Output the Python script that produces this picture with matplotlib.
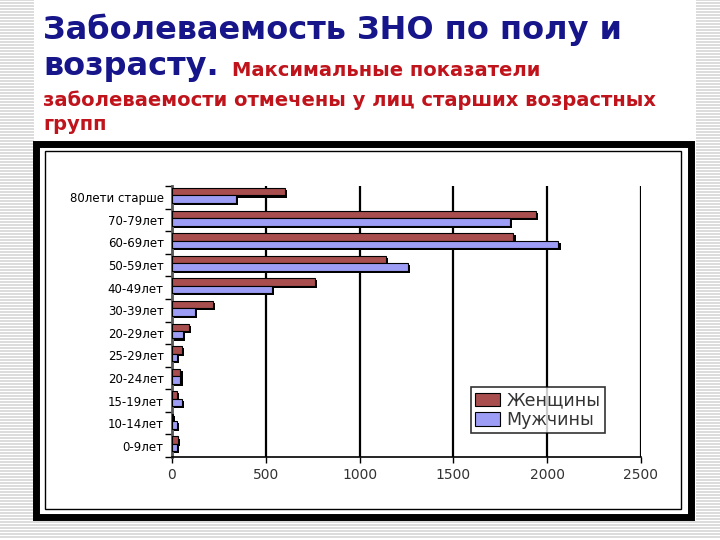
import matplotlib.pyplot as plt
import matplotlib.patheffects as pe
import numpy as np

# age groups, top to bottom as on the slide
groups = ["80лети старше", "70-79лет", "60-69лет", "50-59лет", "40-49лет",
          "30-39лет", "20-29лет", "25-29лет", "20-24лет", "15-19лет",
          "10-14лет", "0-9лет"]
women = [600, 1940, 1820, 1140, 760, 218, 90, 53, 45, 27, 5, 32]
men = [340, 1800, 2060, 1260, 532, 122, 58, 27, 45, 53, 27, 25]
xticks = [0, 500, 1000, 1500, 2000, 2500]

W_COLOR = '#a84e4e'
M_COLOR = '#9d9df5'

fig = plt.figure(figsize=(7.2, 5.4), dpi=100)

# slide background: grey stripes at the edges, white content area
bg = fig.add_axes([0, 0, 1, 1], zorder=-5)
bg.set_xlim(0, 720)
bg.set_ylim(540, 0)
bg.axis('off')
for yy in np.arange(0, 540, 3):
    bg.plot([0, 720], [yy, yy], color='#d6d6d6', lw=1.2,
            solid_capstyle='butt', zorder=1)
bg.add_patch(plt.Rectangle((34, 0), 662, 520, facecolor='white',
                           edgecolor='none', zorder=5))
# chart frame
bg.add_patch(plt.Rectangle((36, 144), 655, 373, facecolor='white',
                           edgecolor='black', lw=5, zorder=6))
bg.add_patch(plt.Rectangle((45, 151), 636, 358, facecolor='none',
                           edgecolor='black', lw=1, zorder=7))

# title
fig.text(43/720, 1 - 30/540, "Заболеваемость ЗНО по полу и", color='#16168a',
         fontsize=23, fontweight='bold', va='center', ha='left')
fig.text(43/720, 1 - 67/540, "возрасту.", color='#16168a',
         fontsize=23, fontweight='bold', va='center', ha='left')
fig.text(232/720, 1 - 70/540, "Максимальные показатели", color='#c0141c',
         fontsize=14, fontweight='bold', va='center', ha='left')
fig.text(43/720, 1 - 100/540, "заболеваемости отмечены у лиц старших возрастных",
         color='#c0141c', fontsize=14, fontweight='bold', va='center', ha='left')
fig.text(43/720, 1 - 124/540, "групп", color='#c0141c', fontsize=14,
         fontweight='bold', va='center', ha='left')

# bar chart
ax = fig.add_axes([172/720, 1 - 457/540, (641 - 172)/720, (457 - 186)/540])
n = len(groups)
ypos = np.arange(n)[::-1]
h = 0.33
shadow = [pe.SimplePatchShadow(offset=(1.5, -1.5), shadow_rgbFace='black', alpha=1),
          pe.Normal()]
bw = ax.barh(ypos + h/2 + 0.08, women, height=h, color=W_COLOR, edgecolor='black',
             lw=0.8, label='Женщины', zorder=3)
bm = ax.barh(ypos - h/2 + 0.08, men, height=h, color=M_COLOR, edgecolor='black',
             lw=0.8, label='Мужчины', zorder=3)
for b in list(bw) + list(bm):
    b.set_path_effects(shadow)

ax.set_xlim(0, 2500)
ax.set_ylim(-0.5, n - 0.5)
ax.set_xticks(xticks)
ax.set_xticklabels([str(v) for v in xticks], fontsize=10, color='#333333')
ax.set_yticks(ypos)
ax.set_yticklabels(groups, fontsize=8.5, color='black')
ax.set_yticks(np.arange(n + 1) - 0.5, minor=True)
ax.tick_params(axis='y', which='major', length=0, pad=6)
ax.tick_params(axis='y', which='minor', length=5, width=1, color='black')
ax.tick_params(axis='x', length=4, width=1, color='black', pad=4)

for v in xticks[1:]:
    ax.axvline(v, color='black', lw=1.6, zorder=1)
for s in ['top', 'right']:
    ax.spines[s].set_visible(False)
ax.spines['left'].set_color('#555555')
ax.spines['left'].set_linewidth(2)
ax.spines['bottom'].set_linewidth(1.2)
ax.set_facecolor('white')

leg = ax.legend(loc='upper left', bbox_to_anchor=(471/720, 1 - 387/540),
                bbox_transform=fig.transFigure, fontsize=12.5, frameon=True,
                fancybox=False, edgecolor='black', borderpad=0.25,
                handlelength=1.4, handleheight=0.8, handletextpad=0.4,
                labelspacing=0.1, borderaxespad=0)
leg.get_frame().set_linewidth(1.2)
for t in leg.get_texts():
    t.set_color('#333333')
for hd in leg.legend_handles:
    hd.set_path_effects([])

fig.savefig('out.png', dpi=100)
